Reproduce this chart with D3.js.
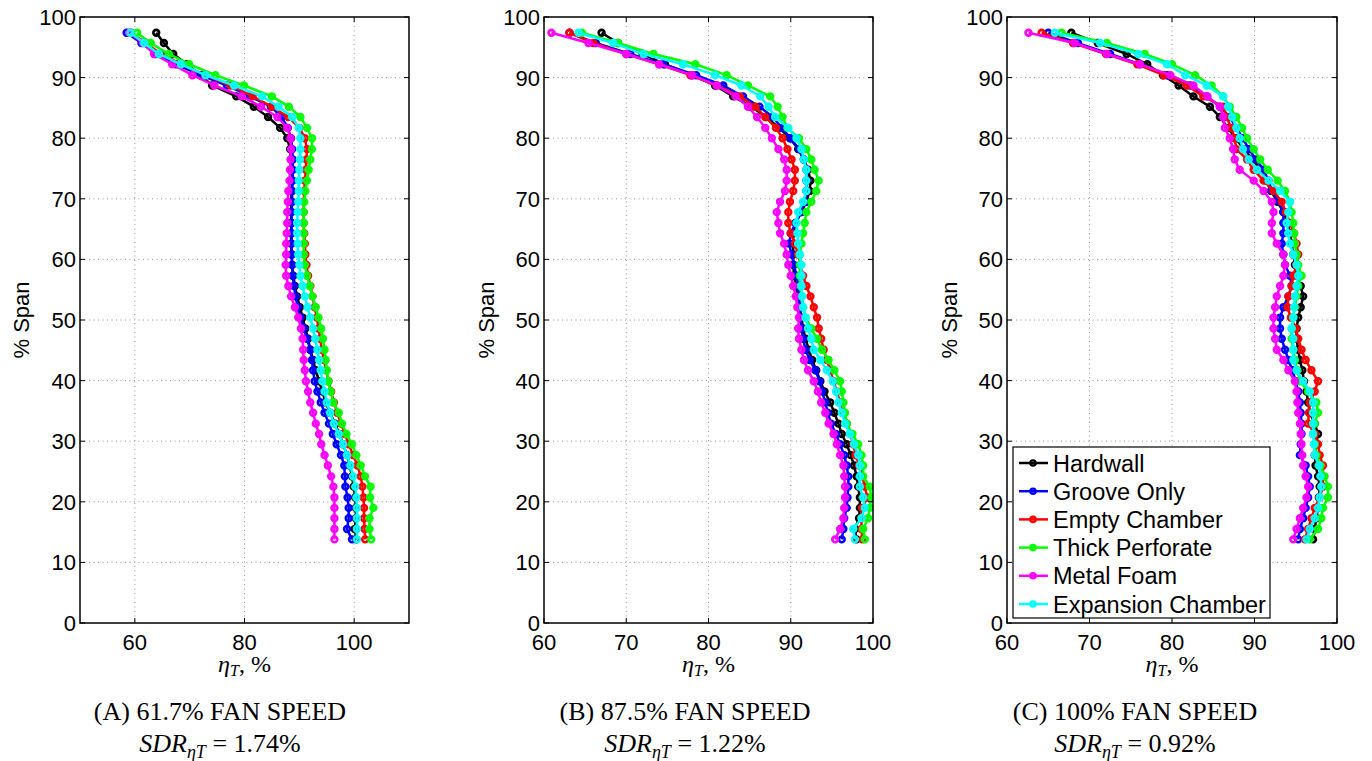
<!DOCTYPE html>
<html>
<head>
<meta charset="utf-8">
<script src="https://cdn.jsdelivr.net/npm/d3@7"></script>
<style>
  body { margin: 0; background: #fff; }
  svg { display: block; }
  .tick-label { font-family: "Liberation Sans", Arial, sans-serif; font-size: 22px; fill: #000; }
  .legend-label { font-family: "Liberation Sans", Arial, sans-serif; font-size: 23.5px; fill: #000; }
  .serif { font-family: "Liberation Serif", "Times New Roman", serif; fill: #000; }
</style>
</head>
<body>
<div id="chart"></div>
<script>
// span stations (% span), shared by every series
const span = [97.4, 95.7, 93.9, 92.2, 90.4, 88.7, 86.9, 85.2, 83.5, 81.7,
  80.0, 78.2, 76.5, 74.8, 73.0, 71.3, 69.5, 67.8, 66.0, 64.3,
  62.6, 60.8, 59.1, 57.3, 55.6, 53.9, 52.1, 50.4, 48.6, 46.9,
  45.1, 43.4, 41.7, 39.9, 38.2, 36.4, 34.7, 32.9, 31.2, 29.5,
  27.7, 26.0, 24.2, 22.5, 20.7, 19.0, 17.3, 15.5, 13.8];

const seriesNames = ["Hardwall", "Groove Only", "Empty Chamber", "Thick Perforate", "Metal Foam", "Expansion Chamber"];
const seriesColors = ["#000000", "#0000ff", "#ff0000", "#00ff00", "#ff00ff", "#00ffff"];

// (A) 61.7% fan speed
const hardwallA = [63.9, 65.3, 67.0, 69.5, 72.0, 74.1, 78.5, 81.7, 84.3, 86.5, 87.8, 88.3, 88.5, 88.6, 88.6, 88.6, 88.5, 88.5, 88.5, 88.5, 88.5, 88.6, 88.7, 88.9, 89.2, 89.6, 90.1, 90.6, 91.1, 91.6, 92.0, 92.5, 93.0, 93.6, 94.2, 94.8, 95.6, 96.5, 97.3, 98.0, 98.7, 99.2, 99.6, 99.9, 100.2, 100.3, 100.3, 100.1, 100.4];
const grooveA = [58.5, 61.2, 63.8, 67.5, 72.0, 76.8, 81.0, 84.8, 86.8, 87.9, 88.5, 88.7, 88.8, 88.8, 88.8, 88.7, 88.7, 88.6, 88.6, 88.6, 88.6, 88.6, 88.7, 88.8, 89.0, 89.3, 89.7, 90.2, 90.8, 91.4, 92.0, 92.3, 92.5, 92.8, 93.3, 93.9, 94.6, 95.4, 96.1, 96.8, 97.6, 98.2, 98.3, 98.4, 98.8, 99.0, 99.0, 98.7, 99.6];
const emptyA = [59.3, 62.0, 64.8, 68.5, 72.8, 77.5, 81.5, 85.0, 88.0, 90.0, 91.0, 91.4, 91.3, 91.2, 91.0, 90.9, 90.8, 90.8, 90.8, 90.9, 91.0, 91.1, 91.3, 91.6, 92.0, 92.4, 92.8, 93.2, 93.5, 93.8, 94.1, 94.5, 94.9, 95.3, 95.8, 96.3, 96.9, 97.6, 98.3, 99.0, 99.8, 100.6, 101.2, 101.5, 101.7, 101.8, 101.8, 101.9, 102.0];
const thickA = [60.4, 62.9, 66.2, 69.9, 74.7, 79.9, 85.0, 88.1, 90.2, 91.4, 92.3, 92.3, 92.0, 91.7, 91.4, 91.1, 90.9, 90.8, 90.8, 90.8, 90.8, 90.8, 91.0, 91.4, 91.9, 92.4, 93.0, 93.5, 94.0, 94.3, 94.6, 94.8, 95.0, 95.3, 95.7, 96.2, 97.2, 97.8, 98.6, 99.6, 100.4, 101.2, 102.0, 103.0, 102.9, 103.5, 102.8, 102.8, 103.1];
const foamA = [59.0, 61.5, 63.5, 66.8, 70.5, 74.5, 79.5, 83.0, 86.0, 87.8, 88.4, 88.5, 88.4, 88.3, 88.2, 88.0, 87.9, 87.8, 87.8, 87.7, 87.6, 87.6, 87.5, 87.6, 88.0, 88.5, 89.2, 89.8, 90.3, 90.6, 90.7, 90.8, 91.0, 91.2, 91.6, 92.0, 92.5, 93.0, 93.6, 94.0, 94.6, 95.2, 95.8, 96.2, 96.4, 96.4, 96.4, 96.4, 96.4];
const expansionA = [59.2, 61.7, 64.4, 68.4, 72.9, 78.1, 83.2, 86.2, 88.7, 89.9, 90.2, 90.2, 90.1, 90.0, 89.9, 89.9, 89.8, 89.7, 89.6, 89.6, 89.7, 89.8, 90.0, 90.2, 90.6, 91.0, 91.5, 92.0, 92.5, 92.9, 93.3, 93.6, 93.9, 94.2, 94.6, 95.0, 95.6, 96.3, 97.2, 98.0, 98.7, 99.3, 99.8, 100.2, 100.4, 100.5, 100.5, 100.5, 100.5];

// (B) 87.5% fan speed
const hardwallB = [67.0, 69.0, 72.0, 74.7, 78.0, 80.8, 83.0, 85.2, 87.0, 88.6, 89.9, 90.9, 91.6, 92.1, 92.4, 92.3, 91.9, 91.3, 90.6, 90.3, 90.3, 90.3, 90.3, 90.4, 90.6, 90.9, 91.1, 91.3, 91.5, 91.8, 92.2, 92.6, 93.1, 93.6, 94.1, 94.8, 95.3, 95.8, 96.2, 96.8, 97.3, 97.7, 98.0, 98.2, 98.4, 98.4, 98.3, 97.8, 98.0];
const grooveB = [63.1, 66.3, 70.5, 74.5, 78.5, 81.8, 84.2, 86.2, 87.8, 88.9, 90.0, 91.0, 91.6, 91.9, 91.9, 91.9, 91.7, 91.2, 90.6, 90.0, 89.8, 90.1, 90.4, 90.7, 90.9, 91.0, 91.1, 91.2, 91.3, 91.5, 91.8, 92.3, 93.0, 93.5, 93.8, 94.2, 94.5, 94.9, 95.5, 96.0, 96.5, 96.8, 97.0, 97.0, 96.9, 96.8, 96.5, 96.4, 96.2];
const emptyB = [63.1, 66.0, 70.0, 74.0, 77.8, 81.0, 83.8, 85.7, 86.9, 88.2, 89.0, 89.6, 90.1, 90.5, 90.5, 90.3, 89.9, 89.7, 89.7, 90.0, 90.5, 90.9, 91.2, 91.5, 91.9, 92.4, 92.8, 93.2, 93.4, 93.7, 94.0, 94.4, 94.8, 95.2, 95.6, 96.0, 96.3, 96.8, 97.2, 97.6, 97.9, 98.3, 98.7, 99.0, 99.3, 98.7, 98.6, 98.6, 98.7];
const thickB = [64.6, 69.0, 73.3, 78.4, 82.2, 84.8, 87.5, 88.4, 89.0, 89.6, 91.0, 91.9, 92.5, 92.9, 93.4, 93.1, 92.5, 91.9, 91.7, 91.5, 91.3, 91.1, 91.1, 91.1, 91.2, 91.3, 91.5, 91.8, 92.5, 93.2, 93.8, 94.6, 95.3, 96.0, 96.2, 96.4, 96.6, 96.8, 97.5, 98.2, 98.6, 98.8, 98.8, 99.6, 99.8, 99.6, 99.4, 98.8, 99.0];
const foamB = [60.9, 65.4, 70.0, 74.0, 78.0, 81.0, 83.3, 84.8, 85.9, 86.9, 87.7, 88.5, 89.2, 89.5, 89.5, 89.3, 88.7, 88.3, 88.5, 88.7, 89.2, 89.5, 89.7, 90.0, 90.3, 90.6, 90.8, 91.0, 90.9, 91.0, 91.3, 91.6, 92.1, 92.8, 93.3, 93.7, 94.2, 94.6, 95.2, 95.6, 96.0, 96.4, 96.5, 96.6, 96.6, 96.5, 96.4, 96.0, 95.4];
const expansionB = [64.2, 68.4, 72.1, 76.9, 80.8, 84.0, 86.3, 87.3, 88.1, 89.7, 90.7, 91.3, 91.6, 91.9, 91.9, 91.9, 91.5, 90.9, 90.7, 90.8, 90.9, 91.1, 91.3, 91.3, 91.3, 91.4, 91.5, 91.8, 92.1, 92.5, 92.8, 93.6, 94.4, 95.1, 95.5, 95.8, 96.2, 96.6, 97.2, 97.7, 98.2, 98.4, 98.4, 98.4, 98.8, 99.0, 98.6, 97.6, 97.8];

// (C) 100% fan speed
const hardwallC = [67.8, 71.0, 74.5, 77.0, 78.9, 80.8, 82.6, 84.6, 85.8, 86.8, 87.7, 88.7, 89.8, 90.7, 91.4, 92.0, 92.8, 93.5, 94.0, 94.3, 94.5, 94.7, 94.9, 95.2, 95.6, 95.9, 95.6, 95.3, 95.1, 95.1, 95.3, 95.5, 95.8, 96.0, 96.3, 96.5, 96.7, 97.3, 97.7, 97.5, 97.3, 97.4, 97.7, 97.9, 97.8, 97.7, 97.5, 97.3, 97.1];
const grooveC = [65.0, 68.6, 72.5, 76.1, 79.4, 82.2, 84.2, 85.8, 87.0, 87.8, 88.6, 89.3, 90.2, 91.1, 91.7, 92.1, 93.0, 93.5, 93.5, 93.5, 93.3, 93.5, 93.7, 94.3, 94.5, 94.1, 93.5, 93.1, 93.1, 93.3, 93.7, 94.1, 94.6, 95.0, 95.3, 95.5, 95.6, 95.7, 95.7, 95.6, 95.5, 96.2, 96.5, 96.7, 96.5, 96.2, 95.9, 95.5, 95.3];
const emptyC = [64.2, 68.0, 72.0, 75.8, 79.0, 81.8, 83.8, 86.2, 86.6, 87.2, 87.6, 87.8, 89.1, 89.9, 91.1, 92.3, 93.3, 93.8, 94.3, 94.8, 95.1, 95.3, 95.1, 94.7, 94.5, 94.1, 94.0, 94.4, 95.0, 95.3, 95.7, 96.2, 96.9, 97.7, 97.3, 96.7, 96.6, 96.5, 97.3, 97.7, 97.9, 98.3, 98.3, 98.3, 97.9, 97.3, 96.9, 96.5, 96.1];
const thickC = [66.6, 72.1, 76.7, 80.0, 82.8, 84.8, 86.2, 87.0, 87.8, 88.5, 89.1, 89.9, 90.7, 91.6, 92.8, 93.7, 94.3, 94.5, 94.7, 94.8, 94.9, 95.1, 95.3, 95.7, 95.3, 95.1, 94.9, 94.7, 94.5, 94.5, 94.7, 94.9, 95.2, 95.5, 96.5, 97.5, 97.7, 97.3, 97.1, 97.3, 97.5, 98.0, 98.5, 98.9, 98.9, 98.3, 98.1, 97.7, 96.7];
const foamC = [62.6, 68.2, 72.1, 76.1, 79.8, 82.6, 84.3, 85.8, 86.2, 86.4, 87.0, 87.4, 87.6, 88.2, 89.9, 91.1, 92.1, 92.3, 92.1, 92.1, 92.7, 93.5, 93.7, 93.5, 93.1, 92.7, 92.5, 92.3, 92.3, 92.5, 92.7, 93.5, 94.1, 94.9, 95.1, 95.2, 95.3, 95.5, 95.6, 95.7, 95.8, 95.9, 96.2, 96.5, 96.3, 95.9, 95.5, 95.1, 94.7];
const expansionC = [65.8, 71.3, 75.9, 79.4, 81.6, 84.2, 86.2, 86.8, 87.3, 87.8, 88.2, 88.6, 89.3, 90.3, 91.7, 93.1, 94.3, 94.1, 93.9, 94.1, 94.3, 94.7, 95.1, 95.3, 95.1, 94.9, 94.8, 94.7, 94.5, 94.7, 94.7, 94.7, 95.1, 95.9, 96.7, 97.1, 97.1, 97.1, 97.1, 97.2, 97.3, 97.8, 98.0, 98.1, 97.9, 97.7, 97.3, 96.7, 96.3];

const yTicks = [0, 10, 20, 30, 40, 50, 60, 70, 80, 90, 100];
const xTicksA = [60, 80, 100];
const xTicksBC = [60, 70, 80, 90, 100];
const captions = ["(A) 61.7% FAN SPEED", "(B) 87.5% FAN SPEED", "(C) 100% FAN SPEED"];
const sdrValues = ["1.74%", "1.22%", "0.92%"];

const panels = [
  { key: "A", x0: 80, x1: 409, domain: [50, 110], ticks: xTicksA, ylabX: 21, capX: 220,
    series: [hardwallA, grooveA, emptyA, thickA, foamA, expansionA] },
  { key: "B", x0: 544, x1: 873, domain: [60, 100], ticks: xTicksBC, ylabX: 486, capX: 685,
    series: [hardwallB, grooveB, emptyB, thickB, foamB, expansionB] },
  { key: "C", x0: 1007, x1: 1337, domain: [60, 100], ticks: xTicksBC, ylabX: 949, capX: 1135,
    series: [hardwallC, grooveC, emptyC, thickC, foamC, expansionC] }
];

const W = 1372, H = 761;
const yTop = 17, yBot = 623;

const svg = d3.select("#chart").append("svg")
  .attr("width", W)
  .attr("height", H);

const y = d3.scaleLinear().domain([0, 100]).range([yBot, yTop]);

function drawSeries(g, xs, vals, color) {
  const pts = vals.map((v, i) => [v, span[i]]);
  const line = d3.line().x(d => xs(d[0])).y(d => y(d[1]));
  g.append("path")
    .datum(pts)
    .attr("d", line)
    .attr("fill", "none")
    .attr("stroke", color)
    .attr("stroke-width", 2.5)
    .attr("stroke-linejoin", "round");
  g.selectAll(null)
    .data(pts)
    .join("circle")
    .attr("cx", d => xs(d[0]))
    .attr("cy", d => y(d[1]))
    .attr("r", 2.9)
    .attr("fill", "none")
    .attr("stroke", color)
    .attr("stroke-width", 2.6);
}

panels.forEach((p, pi) => {
  const x = d3.scaleLinear().domain(p.domain).range([p.x0, p.x1]);
  const g = svg.append("g");

  // grid
  g.selectAll(".vgrid").data(p.ticks.filter(t => t > p.domain[0] && t < p.domain[1]))
    .join("line")
    .attr("x1", d => x(d)).attr("x2", d => x(d))
    .attr("y1", yTop).attr("y2", yBot)
    .attr("stroke", "#999").attr("stroke-width", 1)
    .attr("stroke-dasharray", "1,3.5");
  g.selectAll(".hgrid").data(yTicks.filter(t => t > 0 && t < 100))
    .join("line")
    .attr("x1", p.x0).attr("x2", p.x1)
    .attr("y1", d => y(d)).attr("y2", d => y(d))
    .attr("stroke", "#999").attr("stroke-width", 1)
    .attr("stroke-dasharray", "1,3.5");

  // data, clipped to the axes box
  const clipId = "clip" + p.key;
  svg.append("clipPath").attr("id", clipId)
    .append("rect")
    .attr("x", p.x0).attr("y", yTop)
    .attr("width", p.x1 - p.x0).attr("height", yBot - yTop);
  const dg = g.append("g").attr("clip-path", `url(#${clipId})`);
  p.series.forEach((vals, si) => drawSeries(dg, x, vals, seriesColors[si]));

  // box + inward ticks
  g.append("rect")
    .attr("x", p.x0).attr("y", yTop)
    .attr("width", p.x1 - p.x0).attr("height", yBot - yTop)
    .attr("fill", "none").attr("stroke", "#000").attr("stroke-width", 1.5);
  yTicks.forEach(t => {
    g.append("line").attr("x1", p.x0).attr("x2", p.x0 + 5)
      .attr("y1", y(t)).attr("y2", y(t)).attr("stroke", "#000");
    g.append("line").attr("x1", p.x1).attr("x2", p.x1 - 5)
      .attr("y1", y(t)).attr("y2", y(t)).attr("stroke", "#000");
  });
  p.ticks.forEach(t => {
    g.append("line").attr("x1", x(t)).attr("x2", x(t))
      .attr("y1", yBot).attr("y2", yBot - 5).attr("stroke", "#000");
    g.append("line").attr("x1", x(t)).attr("x2", x(t))
      .attr("y1", yTop).attr("y2", yTop + 5).attr("stroke", "#000");
  });

  // tick labels
  g.selectAll(".ylab").data(yTicks).join("text")
    .attr("class", "tick-label")
    .attr("x", p.x0 - 4)
    .attr("y", d => y(d) + 8)
    .attr("text-anchor", "end")
    .text(d => d);
  g.selectAll(".xlab").data(p.ticks).join("text")
    .attr("class", "tick-label")
    .attr("x", d => x(d))
    .attr("y", yBot + 27)
    .attr("text-anchor", "middle")
    .text(d => d);

  // axis titles
  g.append("text")
    .attr("class", "tick-label")
    .attr("transform", `translate(${p.ylabX},${(yTop + yBot) / 2}) rotate(-90)`)
    .attr("text-anchor", "middle")
    .attr("dy", "0.35em")
    .text("% Span");

  const xt = g.append("text")
    .attr("class", "serif")
    .attr("x", (p.x0 + p.x1) / 2)
    .attr("y", 672)
    .attr("text-anchor", "middle")
    .style("font-size", "24px");
  xt.append("tspan").style("font-style", "italic").text("η");
  xt.append("tspan").style("font-style", "italic").style("font-size", "16px").attr("dy", 4).text("T");
  xt.append("tspan").attr("dy", -4).text(", %");

  // captions
  g.append("text")
    .attr("class", "serif")
    .attr("x", p.capX)
    .attr("y", 720)
    .attr("text-anchor", "middle")
    .style("font-size", "26px")
    .text(captions[pi]);
  const sd = g.append("text")
    .attr("class", "serif")
    .attr("x", p.capX)
    .attr("y", 752)
    .attr("text-anchor", "middle")
    .style("font-size", "26px");
  sd.append("tspan").style("font-style", "italic").text("SDR");
  sd.append("tspan").style("font-style", "italic").style("font-size", "18px").attr("dy", 6).text("ηT");
  sd.append("tspan").attr("dy", -6).text(" = " + sdrValues[pi]);
});

// legend in panel C
const lg = svg.append("g");
lg.append("rect")
  .attr("x", 1013).attr("y", 447)
  .attr("width", 257).attr("height", 171)
  .attr("fill", "#fff").attr("stroke", "#000").attr("stroke-width", 1.2);
seriesNames.forEach((name, i) => {
  const cy = 463 + i * 28.2;
  lg.append("line")
    .attr("x1", 1019).attr("x2", 1048)
    .attr("y1", cy).attr("y2", cy)
    .attr("stroke", seriesColors[i]).attr("stroke-width", 2.5);
  lg.append("circle")
    .attr("cx", 1033).attr("cy", cy).attr("r", 2.6)
    .attr("fill", "none").attr("stroke", seriesColors[i]).attr("stroke-width", 2.4);
  lg.append("text")
    .attr("class", "legend-label")
    .attr("x", 1053).attr("y", cy + 8.5)
    .text(name);
});
</script>
</body>
</html>
